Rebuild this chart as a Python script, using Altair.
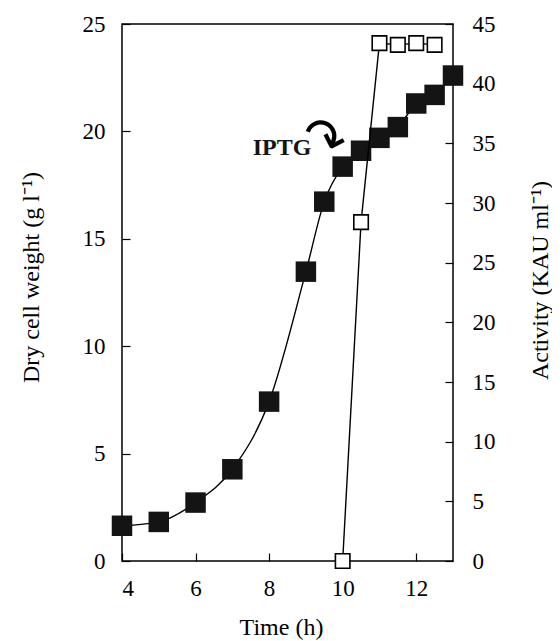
import altair as alt
import pandas as pd

# ---- data ----
time_dcw = [4, 5, 6, 7, 8, 9, 9.5, 10, 10.5, 11, 11.5, 12, 12.5, 13]
dry_cell_weight = [1.64, 1.82, 2.72, 4.27, 7.42, 13.47, 16.73, 18.36, 19.1, 19.7, 20.2, 21.3, 21.7, 22.6]
time_act = [10, 10.5, 11, 11.5, 12, 12.5]
activity = [0, 28.4, 43.4, 43.25, 43.4, 43.25]

x_ticks = [4, 6, 8, 10, 12]
y_left_ticks = [0, 5, 10, 15, 20, 25]
y_right_ticks = [0, 5, 10, 15, 20, 25, 30, 35, 40, 45]

label_text = ["IPTG"]
label_t = [9.15]
label_v = [18.9]
arrow_text = ["\u21b7"]
arrow_t = [9.48]
arrow_v = [19.6]

FONT = "Liberation Serif, Times New Roman, serif"

df_dcw = pd.DataFrame({"t": time_dcw, "v": dry_cell_weight})
df_act = pd.DataFrame({"t": time_act, "v": activity})
df_lab = pd.DataFrame({"t": label_t, "v": label_v, "txt": label_text})
df_arr = pd.DataFrame({"t": arrow_t, "v": arrow_v, "txt": arrow_text})

common_axis = dict(
    domain=False, offset=-8, tickSize=8, tickColor="black", tickWidth=1.2,
    labelFont=FONT, labelFontSize=23, labelColor="black",
    titleFont=FONT, titleFontSize=24, titleFontWeight="normal", titleColor="black",
    grid=False,
)

x_enc = alt.X(
    "t:Q",
    scale=alt.Scale(domain=[4, 13], nice=False, zero=False),
    axis=alt.Axis(values=x_ticks, title="Time (h)", labelPadding=16,
                  titleX=159, titleY=81, titleBaseline="alphabetic", titleAlign="center",
                  **common_axis),
)
y_left = alt.Y(
    "v:Q",
    scale=alt.Scale(domain=[0, 25], nice=False),
    axis=alt.Axis(values=y_left_ticks, orient="left", title="Dry cell weight (g l\u207b\u00b9)",
                  labelPadding=17, titleAngle=270, titleX=-92, titleY=253,
                  titleBaseline="alphabetic", titleAlign="center", **common_axis),
)
y_right = alt.Y(
    "v:Q",
    scale=alt.Scale(domain=[0, 45], nice=False),
    axis=alt.Axis(values=y_right_ticks, orient="right", title="Activity (KAU ml\u207b\u00b9)",
                  labelPadding=19, titleAngle=270, titleX=102, titleY=256,
                  titleBaseline="alphabetic", titleAlign="center", **common_axis),
)

dcw_base = alt.Chart(df_dcw).encode(x=x_enc, y=y_left)
dcw_line = dcw_base.mark_line(color="black", strokeWidth=1.4, interpolate="monotone")
dcw_pts = dcw_base.mark_square(size=420, color="#141414", filled=True, opacity=1)

lab = alt.Chart(df_lab).mark_text(
    font=FONT, fontSize=24, fontWeight="bold", color="#141414", align="right", baseline="alphabetic"
).encode(x=x_enc, y=y_left, text="txt:N")
arr = alt.Chart(df_arr).mark_text(
    font="DejaVu Sans", fontSize=52, color="black", align="center", baseline="middle", angle=18
).encode(x=x_enc, y=y_left, text="txt:N")

left = alt.layer(dcw_line, dcw_pts, lab, arr)

act_base = alt.Chart(df_act).encode(x=x_enc, y=y_right)
act_line = act_base.mark_line(color="black", strokeWidth=1.4)
act_pts = act_base.mark_square(size=210, fill="white", stroke="black", strokeWidth=1.6, filled=True, opacity=1)

right = alt.layer(act_line, act_pts)

chart = (
    alt.layer(left, right)
    .resolve_scale(y="independent")
    .properties(
        width=331, height=537,
        autosize=alt.AutoSizeParams(type="none"),
        padding={"left": 114, "top": 16, "right": 99, "bottom": 80},
        background="white",
    )
    .configure_view(stroke="black", strokeWidth=1.5)
)

chart.save("out.html", embed_options={"renderer": "svg", "actions": False})
